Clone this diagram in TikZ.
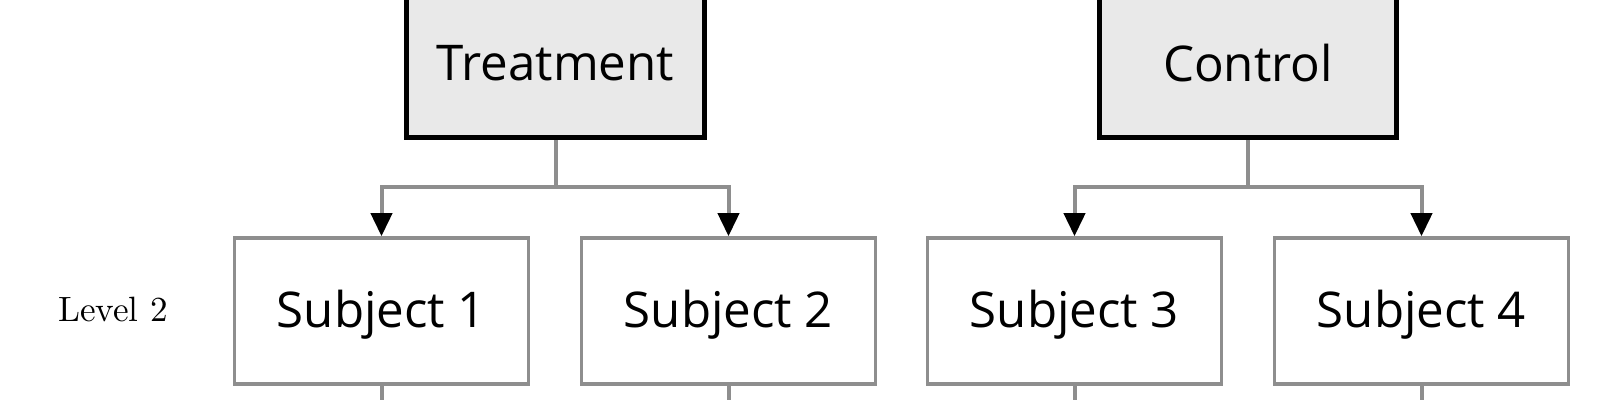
\documentclass[tikz,border=0pt]{standalone}
\usepackage{fontspec}
\setsansfont{Open Sans}
\usetikzlibrary{arrows.meta}
\definecolor{topfill}{HTML}{E9E9E9}
\definecolor{boxgray}{HTML}{8E8E8E}
\definecolor{linegray}{HTML}{8E8E8E}
\tikzset{
  groupbox/.style={draw=black, line width=0.05cm, fill=topfill, minimum width=2.97cm, minimum height=1.5cm, inner sep=0pt, font=\sffamily\fontsize{14}{17}\selectfont},
  subjbox/.style={draw=boxgray, line width=0.035cm, fill=white, minimum width=2.94cm, minimum height=1.46cm, inner sep=0pt, text depth=1pt, font=\sffamily\fontsize{14}{17}\selectfont},
  conn/.style={draw=linegray, line width=0.04cm},
  arr/.style={-{Triangle[width=0.21cm,length=0.23cm,color=black,fill=black]}},
  levellabel/.style={font=\rmfamily\fontsize{10}{12}\selectfont, inner sep=0pt}
}
\begin{document}
\begin{tikzpicture}[x=0.01cm,y=-0.01cm]
\useasboundingbox (0,0) rectangle (1600,400);
\clip (0,0) rectangle (1600,400);
\node[groupbox] (T) at (555.5,62.75) {Treatment};
\node[groupbox] (C) at (1248,62.75) {Control};
\node[subjbox] (S1) at (381.5,311) {Subject 1};
\node[subjbox] (S2) at (728.5,311) {Subject 2};
\node[subjbox] (S3) at (1074.5,311) {Subject 3};
\node[subjbox] (S4) at (1421.5,311) {Subject 4};
\node[levellabel] (L2) at (113,309) {Level 2};
\coordinate (hT) at (555.5,187);
\coordinate (hC) at (1248,187);
\draw[conn] (T.south) -- (hT);
\draw[conn,arr] (hT) -| (S1.north);
\draw[conn,arr] (hT) -| (S2.north);
\draw[conn] (C.south) -- (hC);
\draw[conn,arr] (hC) -| (S3.north);
\draw[conn,arr] (hC) -| (S4.north);
\coordinate (b1) at (381.5,410);
\coordinate (b2) at (728.5,410);
\coordinate (b3) at (1074.5,410);
\coordinate (b4) at (1421.5,410);
\draw[conn] (S1.south) -- (b1);
\draw[conn] (S2.south) -- (b2);
\draw[conn] (S3.south) -- (b3);
\draw[conn] (S4.south) -- (b4);
\end{tikzpicture}
\end{document}
